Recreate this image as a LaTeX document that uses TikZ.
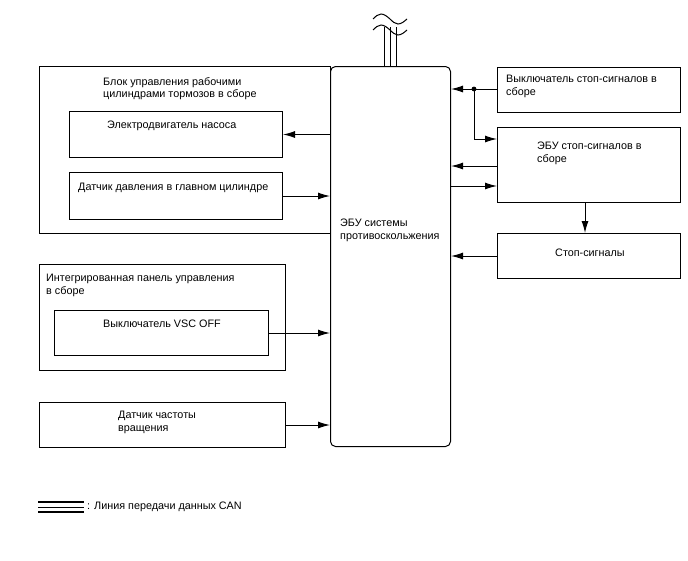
\documentclass[tikz,border=0pt]{standalone}
\usepackage{fontspec}
\setmainfont{Liberation Sans}
\usetikzlibrary{arrows.meta}

\begin{document}
\begin{tikzpicture}[x=1pt, y=-1pt,
      font=\fontsize{10.8}{12.5}\selectfont,
      unit box/.style={draw, line width=1pt, inner sep=0pt, anchor=north west},
      caption/.style={anchor=north west, inner sep=0pt, align=left},
      signal line/.style={line width=1pt, -{Latex[length=12pt, width=7pt]}},
      can line/.style={line width=1.8pt},
      can core/.style={line width=0.9pt}]
    \useasboundingbox (0,0) rectangle (688,560);
    % left side
    \node[unit box, minimum width=291pt, minimum height=167pt] (brk) at (39,66) {};
    \node[caption] (brk-t) at (103,77) {Блок управления рабочими\\цилиндрами тормозов в сборе};
    \node[unit box, minimum width=213pt, minimum height=46pt] (pump) at (69,111) {};
    \node[caption] (pump-t) at (107,121) {Электродвигатель насоса};
    \node[unit box, minimum width=213pt, minimum height=47pt] (mcs) at (69,172) {};
    \node[caption] (mcs-t) at (78,183) {Датчик давления в главном цилиндре};
    \node[unit box, minimum width=246pt, minimum height=106pt] (pnl) at (39,264) {};
    \node[caption] (pnl-t) at (46,274) {Интегрированная панель управления\\в сборе};
    \node[unit box, minimum width=214pt, minimum height=45pt] (vsc) at (54,310) {};
    \node[caption] (vsc-t) at (103,320) {Выключатель VSC OFF};
    \node[unit box, minimum width=246pt, minimum height=45pt] (spd) at (39,402) {};
    \node[caption] (spd-t) at (118,411) {Датчик частоты\\вращения};
    % skid control ecu
    \node[unit box, rounded corners=5pt, fill=white, minimum width=120pt, minimum height=380pt] (ecu) at (330,66) {};
    \node[caption] (ecu-t) at (340,219) {ЭБУ системы\\противоскольжения};
    % right side
    \node[unit box, minimum width=183pt, minimum height=45pt] (sw) at (497,67) {};
    \node[caption] (sw-t) at (506,75) {Выключатель стоп-сигналов в\\сборе};
    \node[unit box, minimum width=183pt, minimum height=75pt] (lecu) at (497,127) {};
    \node[caption] (lecu-t) at (537,142) {ЭБУ стоп-сигналов в\\сборе};
    \node[unit box, minimum width=183pt, minimum height=45pt] (lamp) at (497,233) {};
    \node[caption] (lamp-t) at (555,249) {Стоп-сигналы};
    % can bus
    \foreach \dx/\st in {-6/can line, 0/can core, 6/can line}
      \draw[\st] ([xshift=\dx pt]ecu.north) -- ++(0,-39);
    \draw[line width=1pt] (373,19) sin (381,14) cos (390,19) sin (398,24) cos (407,19);
    \draw[line width=1pt] (373,30) sin (381,25) cos (390,30) sin (398,35) cos (407,30);
    % signals
    \coordinate (tap) at (474,89);
    \coordinate (lecu-a) at ([yshift=-12pt]lecu.north west);
    \coordinate (lecu-b) at ([yshift=-39pt]lecu.north west);
    \coordinate (lecu-c) at ([yshift=-59pt]lecu.north west);
    \coordinate (lecu-d) at ([xshift=-4pt]lecu.south);
    \draw[signal line] (ecu.west |- pump.east) -- (pump.east);
    \draw[signal line] (mcs.east) -- (ecu.west |- mcs.east);
    \draw[signal line] (vsc.east) -- (ecu.west |- vsc.east);
    \draw[signal line] (spd.east) -- (ecu.west |- spd.east);
    \draw[signal line] (sw.west |- tap) -- (ecu.east |- tap);
    \fill (tap) circle (2.4pt);
    \draw[signal line] (tap) |- (lecu-a);
    \draw[signal line] (lecu-b) -- (ecu.east |- lecu-b);
    \draw[signal line] (ecu.east |- lecu-c) -- (lecu-c);
    \draw[signal line] (lecu-d) -- (lamp.north -| lecu-d);
    \draw[signal line] (lamp.west) -- (ecu.east |- lamp.west);
    % legend
    \draw[can line] (38,502) -- (84,502);
    \draw[can core] (38,507) -- (84,507);
    \draw[can line] (38,512) -- (84,512);
    \node[anchor=west, inner sep=0pt] (leg) at (87,507) {: Линия передачи данных CAN};
\end{tikzpicture}
\end{document}
